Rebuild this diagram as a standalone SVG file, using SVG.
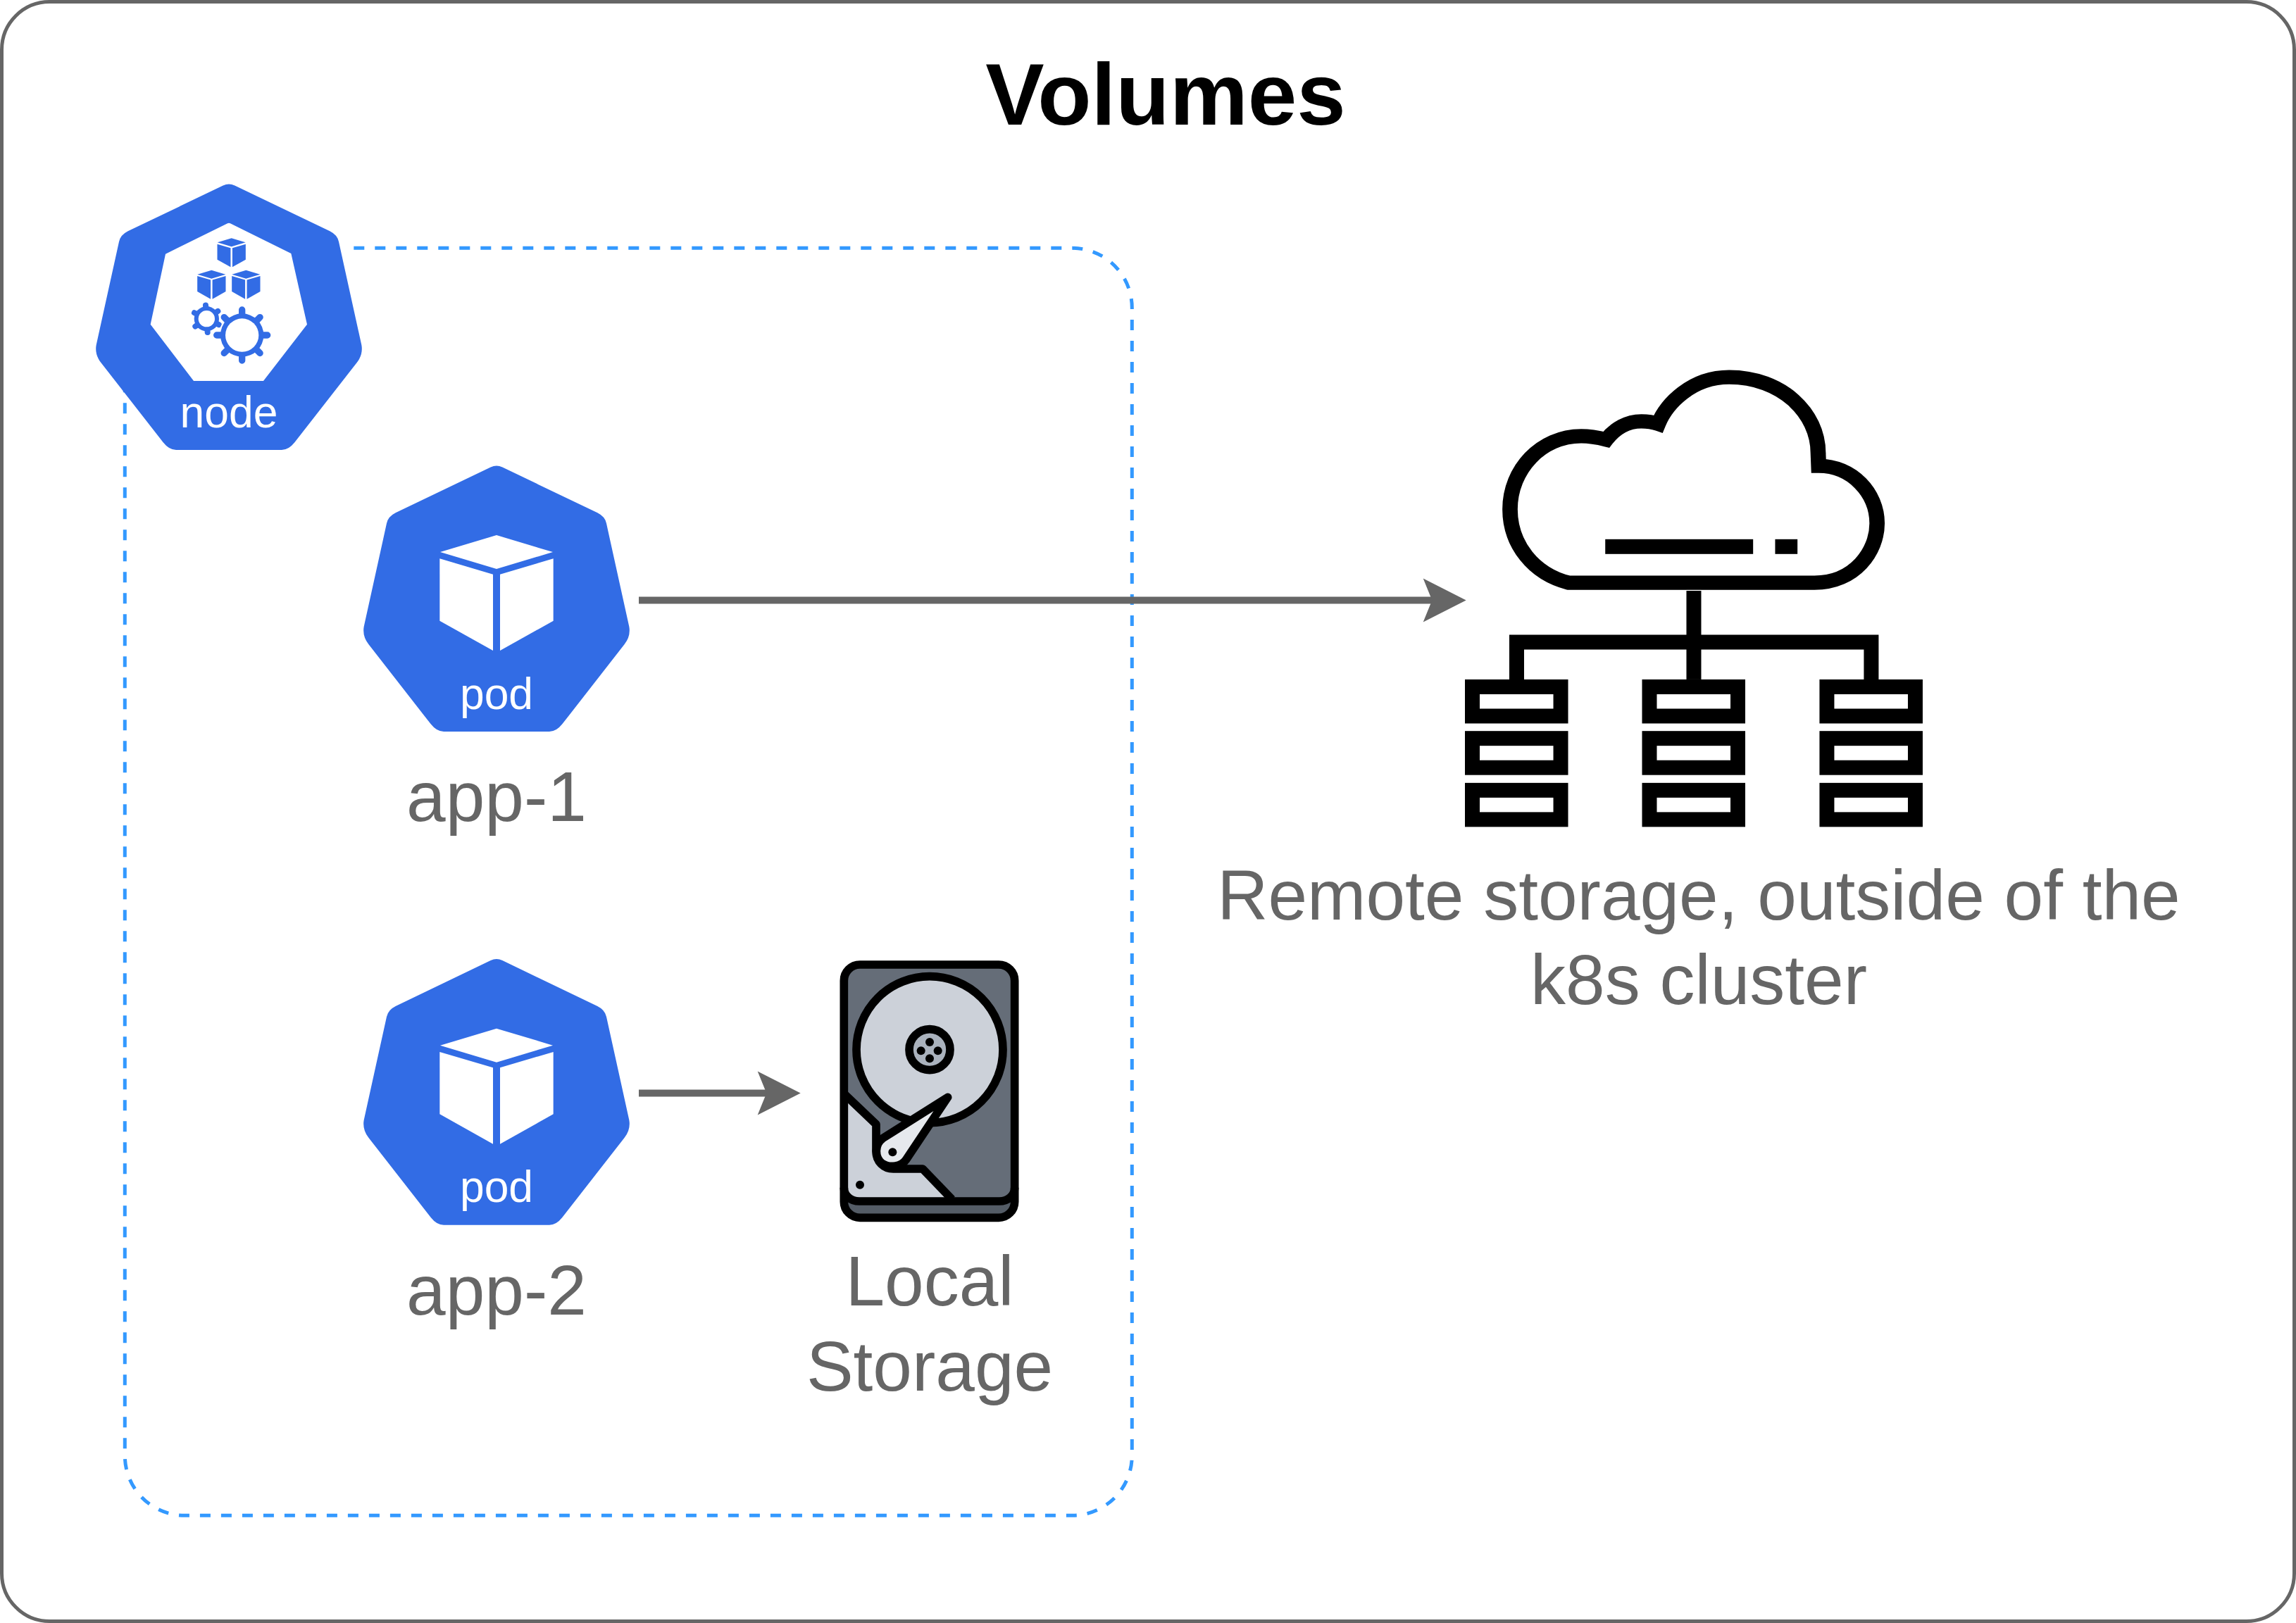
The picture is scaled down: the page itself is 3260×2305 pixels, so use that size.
<svg xmlns="http://www.w3.org/2000/svg" xmlns:xlink="http://www.w3.org/1999/xlink" width="3260" height="2305" viewBox="0 0 3260 2305">
<style>
text{font-family:"Liberation Sans",Arial,sans-serif;text-anchor:middle}
.lbl{font-size:100px;fill:#666666}
.kw{font-size:62.4px;fill:#ffffff}
.blue{fill:#326ce5}
.conn{stroke:#666666;stroke-width:10;fill:none;marker-end:url(#arrow)}
.k{fill:none;stroke:#000;stroke-width:35;stroke-linejoin:round}
.c{fill:none;stroke:#000;stroke-width:47}
.srv{fill:none;stroke:#000;stroke-width:47}
</style>
<defs>
<marker id="arrow" markerUnits="userSpaceOnUse" markerWidth="62" markerHeight="64" refX="20" refY="32" orient="auto" overflow="visible">
<path d="M0 1L61 32L0 63L12.6 32Z" fill="#666666"/>
</marker>
<path id="hept" d="M25 8.4L430 203Q462 219 468 248L565 688Q572 729 545 763L280 1103Q255 1135 225 1135L-225 1135Q-255 1135 -280 1103L-545 763Q-572 729 -565 688L-468 248Q-462 219 -430 203L-25 8.4Q0 -3.6 25 8.4Z"/>
<g id="cube">
<path d="M0 0L240 72L0 144L-240 72Z"/>
<path d="M-242 100L-15 167V492L-242 365Z"/>
<path d="M242 100L15 167V492L242 365Z"/>
</g>
<g id="server"><rect class="srv" x="68.5" y="23.5" width="281" height="93"/></g>
<path id="teeth-big" d="M90 0H108M63.6 63.6L76.400 76.400M0 90V108M-63.6 63.6L-76.400 76.400M-90 0H-108M-63.6 -63.6L-76.400 -76.400M0 -90V-108M63.6 -63.6L76.400 -76.400" stroke-linecap="round" fill="none"/>
<path id="teeth-small" d="M48 0H58M24 41.6L29 50.200M-24 41.6L-29 50.200M-48 0H-58M-24 -41.6L-29 -50.200M24 -41.600L29 -50.200" stroke-linecap="round" fill="none"/>
</defs>
<rect id="frame" x="2.5" y="2.5" width="3255" height="2300" rx="68" ry="68" fill="#ffffff" stroke="#666666" stroke-width="5"/>
<text x="1655" y="177" font-size="125" font-weight="bold" fill="#000000">Volumes</text>
<path id="node-boundary" d="M502.3 352.3H1522.3A85 85 0 0 1 1607.3 437.3V2067.3A85 85 0 0 1 1522.3 2152.3H262.3A85 85 0 0 1 177.3 2067.3V480" fill="none" stroke="#3399ff" stroke-width="5" stroke-dasharray="15 15"/>
<g id="connectors">
<line class="conn" x1="907" y1="852.5" x2="2040.7" y2="852.5"/>
<line class="conn" x1="907" y1="1552.5" x2="1095.7" y2="1552.5"/>
</g>
<g id="node-node">
<g transform="translate(325 260.7) scale(.33333)">
<use xlink:href="#hept" href="#hept" class="blue"/>
<path d="M-12 173Q0 164 12 173L265 298L333 600L147 841H-150L-334 600L-270 300Z" fill="#ffffff"/>
<g class="blue">
<use xlink:href="#cube" href="#cube" transform="translate(11 233) scale(.25)"/>
<use xlink:href="#cube" href="#cube" transform="translate(-74 369) scale(.25)"/>
<use xlink:href="#cube" href="#cube" transform="translate(73 369) scale(.25)"/>
</g>
<g transform="translate(-95 576)">
<circle r="53" fill="#326ce5"/><circle r="35" fill="#ffffff"/>
<use xlink:href="#teeth-small" href="#teeth-small" transform="rotate(26)" stroke="#326ce5" stroke-width="24"/>
</g>
<g transform="translate(56 646)">
<circle r="98" fill="#ffffff"/>
<use xlink:href="#teeth-big" href="#teeth-big" stroke="#ffffff" stroke-width="42"/>
<circle r="92" fill="#326ce5"/><circle r="71" fill="#ffffff"/>
<use xlink:href="#teeth-big" href="#teeth-big" stroke="#326ce5" stroke-width="28"/>
</g>
</g>
<text class="kw" x="325" y="606.7">node</text>
</g>
<g id="pod-app-1">
<g transform="translate(705 660.7) scale(.33333)">
<use xlink:href="#hept" href="#hept" class="blue"/>
<use xlink:href="#cube" href="#cube" fill="#ffffff" transform="translate(0 298)"/>
</g>
<text class="kw" x="705" y="1006.7">pod</text>
<text class="lbl" x="705" y="1166">app-1</text>
</g>
<g id="pod-app-2">
<g transform="translate(705 1361.3) scale(.33333)">
<use xlink:href="#hept" href="#hept" class="blue"/>
<use xlink:href="#cube" href="#cube" fill="#ffffff" transform="translate(0 298)"/>
</g>
<text class="kw" x="705" y="1707.3">pod</text>
<text class="lbl" x="705" y="1867">app-2</text>
</g>
<g id="local-storage">
<g transform="translate(1170 1340) scale(.33333)">
<rect x="85" y="90" width="727" height="1078" rx="68" fill="#656d78"/>
<path d="M85 1040C85 1075 115 1098 150 1098H747C782 1098 812 1075 812 1040V1100Q812 1168 744 1168H153Q85 1168 85 1100Z" fill="#545c66"/>
<path d="M85 640L222 770V885C222 930 255 960 295 960H420L555 1098H150C115 1098 85 1075 85 1040Z" fill="#ccd1d9"/>
<path class="k" d="M85 640L222 770V885C222 930 255 960 295 960H420L545 1090"/>
<path class="k" d="M85 1040C85 1075 115 1098 150 1098H747C782 1098 812 1075 812 1040"/>
<circle class="k" cx="450" cy="452" r="312" style="fill:#ccd1d9"/>
<circle class="k" cx="450" cy="452" r="87" style="fill:#aab2bd"/>
<circle cx="450" cy="420" r="18"/><circle cx="413" cy="457" r="18"/><circle cx="485" cy="457" r="18"/><circle cx="450" cy="490" r="18"/>
<path class="k" d="M527 655L250 830C215 855 215 910 245 935C280 960 330 950 350 920Z" style="fill:#e6e9ed"/>
<circle cx="292" cy="889" r="18"/><circle cx="153" cy="1028" r="18"/>
<rect class="k" x="85" y="90" width="727" height="1078" rx="68"/>
</g>
<text class="lbl" x="1320" y="1854">Local</text>
<text class="lbl" x="1320" y="1975">Storage</text>
</g>
<g id="remote-storage">
<path transform="translate(2120.500 510) scale(.356 .33333)" fill="none" stroke="#000" stroke-width="61" d="M300 953C160 915 66 790 66 640C66 470 190 328 350 328C385 328 420 335 450 343C485 295 535 265 590 265C615 265 635 268 657 276C690 190 790 77 940 77C1150 77 1295 230 1295 400L1297 455C1430 455 1530 570 1530 700C1530 820 1440 953 1280 953Z"/>
<g transform="translate(2059.900 499.700) scale(.4467 .4465)">
<rect x="491" y="596" width="470" height="47"/>
<rect x="1031" y="596" width="71" height="47"/>
<rect x="749" y="760" width="47" height="282"/>
<path class="c" d="M209.500 1042V923.500H1336.500V1042"/>
<use xlink:href="#server" href="#server" transform="translate(0 1042)"/>
<use xlink:href="#server" href="#server" transform="translate(0 1206)"/>
<use xlink:href="#server" href="#server" transform="translate(0 1371)"/>
<use xlink:href="#server" href="#server" transform="translate(563 1042)"/>
<use xlink:href="#server" href="#server" transform="translate(563 1206)"/>
<use xlink:href="#server" href="#server" transform="translate(563 1371)"/>
<use xlink:href="#server" href="#server" transform="translate(1127 1042)"/>
<use xlink:href="#server" href="#server" transform="translate(1127 1206)"/>
<use xlink:href="#server" href="#server" transform="translate(1127 1371)"/>
</g>
<text class="lbl" x="2412" y="1306">Remote storage, outside of the</text>
<text class="lbl" x="2412" y="1426">k8s cluster</text>
</g>
</svg>
